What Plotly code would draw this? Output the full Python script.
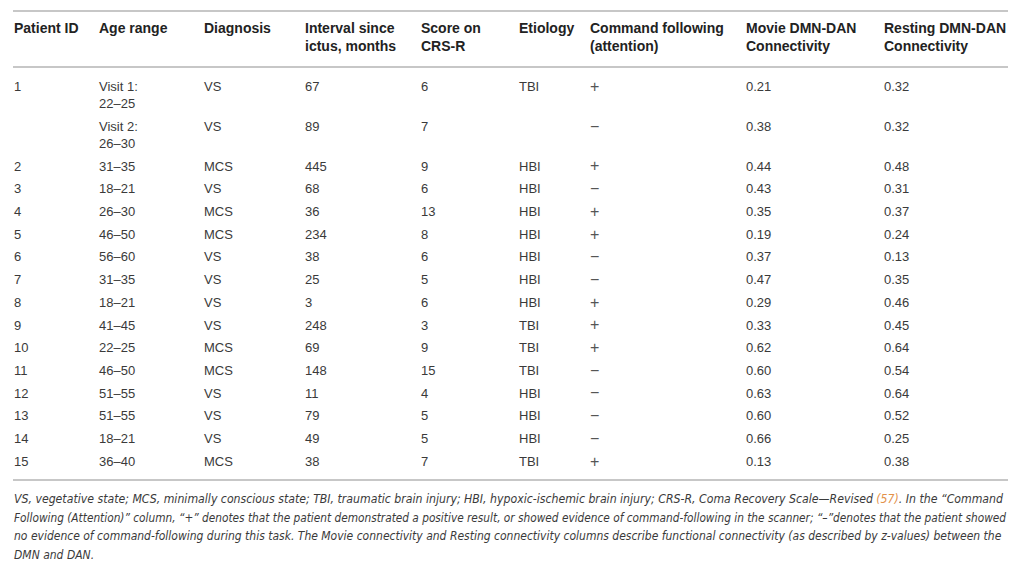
import plotly.graph_objects as go

W, H = 1016, 563

headers = ["Patient ID", "Age range", "Diagnosis", "Interval since<br>ictus, months",
           "Score on<br>CRS-R", "Etiology", "Command following<br>(attention)",
           "Movie DMN-DAN<br>Connectivity", "Resting DMN-DAN<br>Connectivity"]

patient_id = ["1", "", "2", "3", "4", "5", "6", "7", "8", "9", "10", "11", "12", "13", "14", "15"]
age_range = ["Visit 1:<br>22–25", "Visit 2:<br>26–30", "31–35", "18–21", "26–30", "46–50",
             "56–60", "31–35", "18–21", "41–45", "22–25", "46–50", "51–55", "51–55", "18–21", "36–40"]
diagnosis = ["VS", "VS", "MCS", "VS", "MCS", "MCS", "VS", "VS", "VS", "VS", "MCS", "MCS",
             "VS", "VS", "VS", "MCS"]
interval_months = [67, 89, 445, 68, 36, 234, 38, 25, 3, 248, 69, 148, 11, 79, 49, 38]
crs_r_score = [6, 7, 9, 6, 13, 8, 6, 5, 6, 3, 9, 15, 4, 5, 5, 7]
etiology = ["TBI", "", "HBI", "HBI", "HBI", "HBI", "HBI", "HBI", "HBI", "TBI", "TBI", "TBI",
            "HBI", "HBI", "HBI", "TBI"]
command_following = ["+", "−", "+", "−", "+", "+", "−", "−", "+", "+", "+", "−", "−", "−", "−", "+"]
movie_conn = ["0.21", "0.38", "0.44", "0.43", "0.35", "0.19", "0.37", "0.47", "0.29", "0.33",
              "0.62", "0.60", "0.63", "0.60", "0.66", "0.13"]
resting_conn = ["0.32", "0.32", "0.48", "0.31", "0.37", "0.24", "0.13", "0.35", "0.46", "0.45",
                "0.64", "0.54", "0.64", "0.52", "0.25", "0.38"]

footnote_lines = [
    "VS, vegetative state; MCS, minimally conscious state; TBI, traumatic brain injury; HBI, "
    "hypoxic-ischemic brain injury; CRS-R, Coma Recovery Scale—Revised "
    "<span style='color:#e3914a'>(57)</span>. In the “Command",
    "Following (Attention)” column, “+” denotes that the patient demonstrated a positive result, "
    "or showed evidence of command-following in the scanner; “–”denotes that the patient showed",
    "no evidence of command-following during this task. The Movie connectivity and Resting "
    "connectivity columns describe functional connectivity (as described by z-values) between the",
    "DMN and DAN.",
]

columns = [patient_id, age_range, diagnosis, interval_months, crs_r_score,
           etiology, command_following, movie_conn, resting_conn]

# layout of the table (pixels from top-left)
col_x = [6, 91, 196, 297, 413, 511, 582, 738, 876]
sign_col = 6  # the +/− column uses a larger, lighter glyph
header_y, header_gap = 21, 18
first_row_y, line_gap, row_gap = 80, 17, 22.7
rules_y = [3, 59, 472]
foot_y, foot_gap = 491, 18.5
foot_sizes = [12.2, 11.75, 12.0, 12.0]

font_family = "Liberation Sans, Arial, Helvetica, sans-serif"
text_color = "#3a3a3a"
rule_color = "#b5b5b5"

# header cells, one entry per text line
hx, hy, ht = [], [], []
for cx, label in zip(col_x, headers):
    for k, part in enumerate(label.split("<br>")):
        hx.append(cx)
        hy.append(header_y + k * header_gap)
        ht.append(part)

# body cells, rows grow with their number of lines
bx, by, bt, bsize, bcolor = [], [], [], [], []
y = first_row_y
for r in range(len(patient_id)):
    n_lines = 1
    for c, (cx, col) in enumerate(zip(col_x, columns)):
        parts = str(col[r]).split("<br>")
        n_lines = max(n_lines, len(parts))
        for k, part in enumerate(parts):
            bx.append(cx)
            by.append(y + k * line_gap)
            bt.append(part)
            bsize.append(16 if c == sign_col else 13)
            bcolor.append("#555555" if c == sign_col else text_color)
    y += (n_lines - 1) * line_gap + row_gap

fig = go.Figure()
fig.add_trace(go.Scatter(x=hx, y=hy, text=ht, mode="text", textposition="middle right",
                         hoverinfo="skip", showlegend=False,
                         textfont=dict(family=font_family, size=14, color="#222222",
                                       weight="bold")))
fig.add_trace(go.Scatter(x=bx, y=by, text=bt, mode="text", textposition="middle right",
                         hoverinfo="skip", showlegend=False,
                         textfont=dict(family=font_family, size=bsize, color=bcolor)))

for ry in rules_y:
    fig.add_shape(type="line", xref="x", yref="y", x0=5, x1=1010, y0=ry, y1=ry,
                  line=dict(color=rule_color, width=1.6), layer="below")

for i, line in enumerate(footnote_lines):
    fig.add_annotation(xref="x", yref="y", x=4, y=foot_y + foot_gap * i,
                       xanchor="left", yanchor="middle", showarrow=False, align="left",
                       text=line,
                       font=dict(family="Liberation Sans Narrow, DejaVu Sans Condensed, sans-serif",
                                 size=foot_sizes[i], color=text_color, style="italic"))

fig.update_xaxes(range=[0, W], visible=False, fixedrange=True)
fig.update_yaxes(range=[H, 0], visible=False, fixedrange=True)
fig.update_layout(width=W, height=H, margin=dict(l=0, r=0, t=0, b=0),
                  paper_bgcolor="white", plot_bgcolor="white")

fig.write_html("out.html")
